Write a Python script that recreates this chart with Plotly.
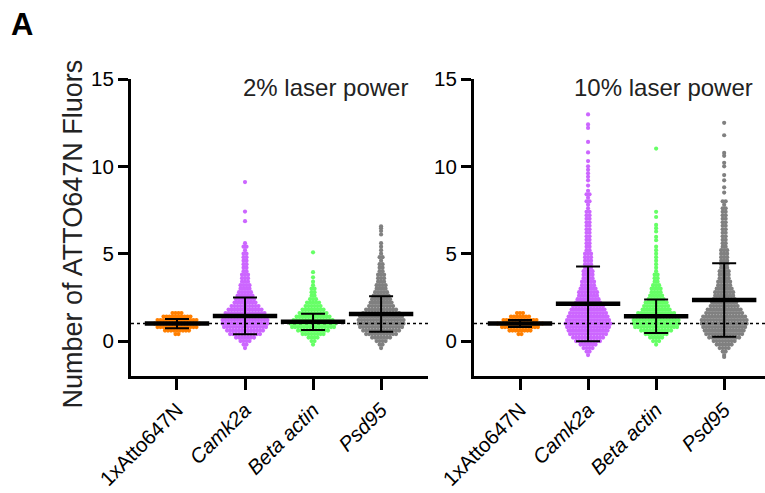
import plotly.graph_objects as go

# ---------------- data ----------------
categories = ["1xAtto647N", "<i>Camk2a</i>", "<i>Beta actin</i>", "<i>Psd95</i>"]
colors = ["#FF7F00", "#CC66FF", "#66FF66", "#808080"]
panel_titles = ["2% laser power", "10% laser power"]

ROW = 0.2

# 2% laser power
atto_2_start, atto_2_counts = 0.4, [2, 9, 14, 16, 14, 10, 4]
atto_2_extra = []
camk_2_start = -0.4
camk_2_counts = [1, 2, 4, 7, 11, 13, 15, 16, 16, 15, 14, 12, 10, 8, 7, 6, 5, 4, 4, 3,
                 3, 3, 2, 2, 2, 2, 2, 2, 1, 2, 1]
camk_2_extra = [6.86, 7.41, 9.1]
actb_2_start = -0.2
actb_2_counts = [1, 2, 4, 8, 11, 15, 16, 14, 12, 10, 8, 6, 5, 3, 2, 2, 2, 1, 1]
actb_2_extra = [3.65, 3.94, 5.08]
psd_2_start = -0.4
psd_2_counts = [1, 2, 4, 7, 11, 13, 15, 16, 16, 15, 13, 11, 9, 8, 7, 6, 5, 4, 4, 3,
                3, 3, 2, 2, 2, 1, 2, 1, 1, 1, 1]
psd_2_extra = [6.1, 6.3, 6.45, 6.57]

# 10% laser power
atto_10_start, atto_10_counts = 0.4, [2, 8, 13, 16, 12, 7, 3]
atto_10_extra = []
camk_10_start = -0.8
camk_10_counts = [1, 2, 4, 6, 9, 11, 13, 14, 15, 16, 15, 14, 13, 12, 11, 9, 8, 7, 7, 6,
                  5, 5, 4, 4, 4, 3, 3, 3, 3, 3, 2, 2, 2, 2, 2, 2, 2, 2, 2, 2,
                  2, 2, 1, 1, 2, 1, 2, 1]
camk_10_extra = [8.9, 9.2, 9.4, 9.6, 9.8, 10.0, 10.3, 10.8, 11.4, 12.2, 12.4, 12.97]
actb_10_start = -0.2
actb_10_counts = [1, 3, 5, 8, 11, 15, 16, 16, 14, 13, 10, 9, 8, 6, 5, 4, 4, 3, 2, 2,
                  2, 1, 1, 1, 1, 1, 1, 1, 1]
actb_10_extra = [5.77, 5.96, 6.27, 6.46, 6.65, 7.1, 7.4, 11.02]
psd_10_start = -0.8
psd_10_counts = [1, 2, 4, 6, 8, 11, 13, 14, 15, 16, 16, 15, 13, 12, 10, 9, 8, 7, 7, 6,
                 5, 5, 4, 4, 4, 3, 3, 3, 3, 3, 3, 2, 2, 2, 2, 2, 2, 2, 2, 2,
                 2, 2, 2, 1, 2]
psd_10_extra = [-0.91, 8.5, 8.8, 9.2, 9.5, 10.0, 10.2, 10.6, 10.77, 11.78, 12.49]

# mean and SD
means_2 = [1.00, 1.44, 1.10, 1.55]
sds_2 = [0.26, 1.05, 0.47, 1.02]
means_10 = [1.01, 2.13, 1.42, 2.35]
sds_10 = [0.20, 2.14, 0.96, 2.11]

panels = [
    dict(groups=[(atto_2_start, atto_2_counts, atto_2_extra),
                 (camk_2_start, camk_2_counts, camk_2_extra),
                 (actb_2_start, actb_2_counts, actb_2_extra),
                 (psd_2_start, psd_2_counts, psd_2_extra)],
         means=means_2, sds=sds_2, xa="x", ya="y"),
    dict(groups=[(atto_10_start, atto_10_counts, atto_10_extra),
                 (camk_10_start, camk_10_counts, camk_10_extra),
                 (actb_10_start, actb_10_counts, actb_10_extra),
                 (psd_10_start, psd_10_counts, psd_10_extra)],
         means=means_10, sds=sds_10, xa="x2", ya="y2"),
]


def expand(start, counts, extra):
    vals = []
    for i, c in enumerate(counts):
        vals += [round(start + i * ROW, 3)] * c
    return vals + list(extra)


def swarm(values, center, spacing=0.044):
    rows = {}
    for v in sorted(values):
        rows.setdefault(round(v / ROW), []).append(v)
    xs, ys = [], []
    for vs in rows.values():
        n = len(vs)
        for i, v in enumerate(vs):
            xs.append(center + (i - (n - 1) / 2) * spacing)
            ys.append(v)
    return xs, ys


fig = go.Figure()
for p in panels:
    for g, (start, counts, extra) in enumerate(p["groups"]):
        xs, ys = swarm(expand(start, counts, extra), g)
        fig.add_trace(go.Scatter(
            x=xs, y=ys, mode="markers", xaxis=p["xa"], yaxis=p["ya"],
            marker=dict(size=4.2, color=colors[g], line=dict(width=0)),
            showlegend=False, hoverinfo="skip"))
    fig.add_trace(go.Scatter(
        x=list(range(4)), y=p["means"], mode="markers", xaxis=p["xa"], yaxis=p["ya"],
        marker=dict(symbol="line-ew-open", size=46, color="black",
                    line=dict(width=4.5, color="black")),
        error_y=dict(type="data", array=p["sds"], visible=True, color="black",
                     thickness=2, width=12),
        showlegend=False, hoverinfo="skip"))

FONT = "Liberation Sans, Arial, Helvetica, sans-serif"
axis_common = dict(showline=True, linewidth=3, linecolor="black", ticks="outside",
                   tickwidth=3, tickcolor="black", showgrid=False, zeroline=False,
                   automargin=False)
xtickfont = dict(family=FONT, size=20.5, color="black")
ytickfont = dict(family=FONT, size=20.5, color="black")

fig.update_layout(
    width=765, height=493,
    margin=dict(l=131, r=0, t=79, b=117),
    plot_bgcolor="white", paper_bgcolor="white",
    font=dict(family=FONT, color="black"),
    xaxis=dict(domain=[0, 0.4685], range=[-0.676, 3.69], tickvals=list(range(4)),
               ticktext=categories, tickangle=-45, ticklen=11, anchor="y",
               tickfont=xtickfont, **axis_common),
    yaxis=dict(domain=[0, 1], range=[-2, 15], tickvals=[0, 5, 10, 15], ticklen=10,
               anchor="x", tickfont=ytickfont, **axis_common),
    xaxis2=dict(domain=[0.541, 1], range=[-0.676, 3.60], tickvals=list(range(4)),
                ticktext=categories, tickangle=-45, ticklen=11, anchor="y2",
                tickfont=xtickfont, **axis_common),
    yaxis2=dict(domain=[0, 1], range=[-2, 15], tickvals=[0, 5, 10, 15], ticklen=10,
                anchor="x2", tickfont=ytickfont, **axis_common),
)

for xr, yr in [("x domain", "y"), ("x2 domain", "y2")]:
    fig.add_shape(type="line", xref=xr, x0=0, x1=1, yref=yr, y0=1, y1=1,
                  line=dict(color="black", width=1.5, dash="dot"), layer="above")

fig.add_annotation(text=panel_titles[0], xref="paper", yref="paper", x=0.44, y=0.97,
                   xanchor="right", yanchor="middle", showarrow=False,
                   font=dict(family=FONT, size=24, color="#222222"))
fig.add_annotation(text=panel_titles[1], xref="paper", yref="paper", x=0.984, y=0.97,
                   xanchor="right", yanchor="middle", showarrow=False,
                   font=dict(family=FONT, size=24, color="#222222"))
fig.add_annotation(text="Number of ATTO647N Fluors", xref="paper", yref="paper",
                   x=-0.0915, y=0.48, xanchor="center", yanchor="middle", textangle=-90,
                   showarrow=False, font=dict(family=FONT, size=27, color="#222222"))
fig.add_annotation(text="<b>A</b>", xref="paper", yref="paper", x=-0.193, y=1.182,
                   xanchor="left", yanchor="middle", showarrow=False,
                   font=dict(family=FONT, size=31, color="black"))

fig.write_html("out.html")
